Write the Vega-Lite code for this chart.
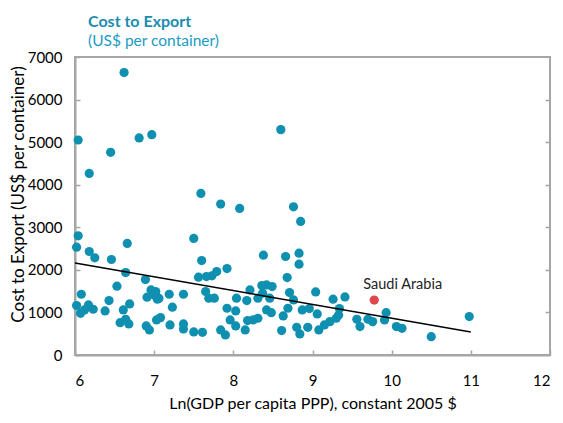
{
  "$schema": "https://vega.github.io/schema/vega-lite/v6.json",
  "width": 475,
  "height": 298,
  "autosize": {"type": "none"},
  "padding": {"left": 75, "top": 57, "right": 13, "bottom": 68},
  "background": "white",
  "config": {
    "font": "Lato",
    "view": {"stroke": "#a6a6a6", "strokeWidth": 2},
    "axis": {"grid": false, "domainColor": "#a6a6a6", "domainWidth": 2, "tickColor": "#a6a6a6", "tickWidth": 1.5, "labelColor": "#000000", "titleColor": "#000000", "labelFont": "Lato", "titleFont": "Lato", "titleFontWeight": "normal"}
  },
  "title": {
    "text": "Cost to Export",
    "subtitle": "(US$ per container)",
    "anchor": "start",
    "frame": "group",
    "dx": 13,
    "offset": 1,
    "font": "Lato",
    "fontSize": 16,
    "fontWeight": "bold",
    "color": "#1a8db0",
    "subtitleFont": "Lato",
    "subtitleFontSize": 15.5,
    "subtitleColor": "#1a9bc4",
    "subtitlePadding": 4
  },
  "datasets": {
    "pts": [
      {"gdp": 6.62, "cost": 6635, "country": "Other"},
      {"gdp": 6.04, "cost": 5050, "country": "Other"},
      {"gdp": 6.18, "cost": 4266, "country": "Other"},
      {"gdp": 6.45, "cost": 4760, "country": "Other"},
      {"gdp": 6.81, "cost": 5098, "country": "Other"},
      {"gdp": 6.97, "cost": 5176, "country": "Other"},
      {"gdp": 7.59, "cost": 3795, "country": "Other"},
      {"gdp": 7.84, "cost": 3545, "country": "Other"},
      {"gdp": 8.08, "cost": 3443, "country": "Other"},
      {"gdp": 8.60, "cost": 5294, "country": "Other"},
      {"gdp": 8.76, "cost": 3482, "country": "Other"},
      {"gdp": 8.85, "cost": 3137, "country": "Other"},
      {"gdp": 6.04, "cost": 2800, "country": "Other"},
      {"gdp": 6.02, "cost": 2533, "country": "Other"},
      {"gdp": 6.18, "cost": 2431, "country": "Other"},
      {"gdp": 6.25, "cost": 2282, "country": "Other"},
      {"gdp": 6.46, "cost": 2243, "country": "Other"},
      {"gdp": 6.66, "cost": 2620, "country": "Other"},
      {"gdp": 6.64, "cost": 1937, "country": "Other"},
      {"gdp": 6.53, "cost": 1616, "country": "Other"},
      {"gdp": 6.08, "cost": 1427, "country": "Other"},
      {"gdp": 6.02, "cost": 1161, "country": "Other"},
      {"gdp": 6.07, "cost": 980, "country": "Other"},
      {"gdp": 6.12, "cost": 1059, "country": "Other"},
      {"gdp": 6.17, "cost": 1176, "country": "Other"},
      {"gdp": 6.23, "cost": 1075, "country": "Other"},
      {"gdp": 6.38, "cost": 1035, "country": "Other"},
      {"gdp": 6.43, "cost": 1278, "country": "Other"},
      {"gdp": 6.61, "cost": 1059, "country": "Other"},
      {"gdp": 6.69, "cost": 1200, "country": "Other"},
      {"gdp": 6.57, "cost": 760, "country": "Other"},
      {"gdp": 6.64, "cost": 840, "country": "Other"},
      {"gdp": 6.68, "cost": 729, "country": "Other"},
      {"gdp": 6.89, "cost": 1772, "country": "Other"},
      {"gdp": 6.96, "cost": 1529, "country": "Other"},
      {"gdp": 7.02, "cost": 1490, "country": "Other"},
      {"gdp": 6.91, "cost": 1357, "country": "Other"},
      {"gdp": 7.04, "cost": 1310, "country": "Other"},
      {"gdp": 6.99, "cost": 1420, "country": "Other"},
      {"gdp": 7.03, "cost": 1370, "country": "Other"},
      {"gdp": 7.06, "cost": 1330, "country": "Other"},
      {"gdp": 7.19, "cost": 1427, "country": "Other"},
      {"gdp": 7.23, "cost": 1122, "country": "Other"},
      {"gdp": 7.37, "cost": 1427, "country": "Other"},
      {"gdp": 7.20, "cost": 706, "country": "Other"},
      {"gdp": 7.37, "cost": 729, "country": "Other"},
      {"gdp": 7.37, "cost": 612, "country": "Other"},
      {"gdp": 7.08, "cost": 878, "country": "Other"},
      {"gdp": 7.03, "cost": 824, "country": "Other"},
      {"gdp": 6.90, "cost": 682, "country": "Other"},
      {"gdp": 6.94, "cost": 588, "country": "Other"},
      {"gdp": 7.50, "cost": 2737, "country": "Other"},
      {"gdp": 7.60, "cost": 2219, "country": "Other"},
      {"gdp": 7.56, "cost": 1828, "country": "Other"},
      {"gdp": 7.66, "cost": 1843, "country": "Other"},
      {"gdp": 7.73, "cost": 1859, "country": "Other"},
      {"gdp": 7.79, "cost": 1960, "country": "Other"},
      {"gdp": 7.92, "cost": 2031, "country": "Other"},
      {"gdp": 7.65, "cost": 1490, "country": "Other"},
      {"gdp": 7.69, "cost": 1334, "country": "Other"},
      {"gdp": 7.76, "cost": 1334, "country": "Other"},
      {"gdp": 7.50, "cost": 541, "country": "Other"},
      {"gdp": 7.61, "cost": 533, "country": "Other"},
      {"gdp": 7.92, "cost": 1098, "country": "Other"},
      {"gdp": 7.96, "cost": 824, "country": "Other"},
      {"gdp": 8.03, "cost": 682, "country": "Other"},
      {"gdp": 7.84, "cost": 588, "country": "Other"},
      {"gdp": 7.90, "cost": 471, "country": "Other"},
      {"gdp": 8.04, "cost": 1334, "country": "Other"},
      {"gdp": 8.38, "cost": 2345, "country": "Other"},
      {"gdp": 8.66, "cost": 2314, "country": "Other"},
      {"gdp": 8.83, "cost": 2392, "country": "Other"},
      {"gdp": 8.83, "cost": 2134, "country": "Other"},
      {"gdp": 8.68, "cost": 1820, "country": "Other"},
      {"gdp": 8.21, "cost": 1529, "country": "Other"},
      {"gdp": 8.36, "cost": 1631, "country": "Other"},
      {"gdp": 8.42, "cost": 1647, "country": "Other"},
      {"gdp": 8.49, "cost": 1608, "country": "Other"},
      {"gdp": 8.37, "cost": 1451, "country": "Other"},
      {"gdp": 8.46, "cost": 1334, "country": "Other"},
      {"gdp": 8.17, "cost": 1278, "country": "Other"},
      {"gdp": 8.31, "cost": 1334, "country": "Other"},
      {"gdp": 8.71, "cost": 1467, "country": "Other"},
      {"gdp": 8.76, "cost": 1294, "country": "Other"},
      {"gdp": 8.03, "cost": 1035, "country": "Other"},
      {"gdp": 8.42, "cost": 1059, "country": "Other"},
      {"gdp": 8.48, "cost": 995, "country": "Other"},
      {"gdp": 8.69, "cost": 1098, "country": "Other"},
      {"gdp": 8.63, "cost": 918, "country": "Other"},
      {"gdp": 8.87, "cost": 1059, "country": "Other"},
      {"gdp": 8.96, "cost": 1090, "country": "Other"},
      {"gdp": 9.04, "cost": 1482, "country": "Other"},
      {"gdp": 9.26, "cost": 1310, "country": "Other"},
      {"gdp": 9.41, "cost": 1365, "country": "Other"},
      {"gdp": 9.34, "cost": 1090, "country": "Other"},
      {"gdp": 9.06, "cost": 965, "country": "Other"},
      {"gdp": 8.18, "cost": 808, "country": "Other"},
      {"gdp": 8.25, "cost": 824, "country": "Other"},
      {"gdp": 8.31, "cost": 863, "country": "Other"},
      {"gdp": 8.15, "cost": 588, "country": "Other"},
      {"gdp": 8.61, "cost": 573, "country": "Other"},
      {"gdp": 8.80, "cost": 651, "country": "Other"},
      {"gdp": 8.84, "cost": 494, "country": "Other"},
      {"gdp": 8.94, "cost": 651, "country": "Other"},
      {"gdp": 9.08, "cost": 588, "country": "Other"},
      {"gdp": 9.15, "cost": 706, "country": "Other"},
      {"gdp": 9.22, "cost": 784, "country": "Other"},
      {"gdp": 9.30, "cost": 863, "country": "Other"},
      {"gdp": 9.33, "cost": 941, "country": "Other"},
      {"gdp": 9.56, "cost": 840, "country": "Other"},
      {"gdp": 9.60, "cost": 667, "country": "Other"},
      {"gdp": 9.70, "cost": 840, "country": "Other"},
      {"gdp": 9.76, "cost": 784, "country": "Other"},
      {"gdp": 9.93, "cost": 995, "country": "Other"},
      {"gdp": 9.91, "cost": 824, "country": "Other"},
      {"gdp": 10.06, "cost": 667, "country": "Other"},
      {"gdp": 10.13, "cost": 628, "country": "Other"},
      {"gdp": 10.50, "cost": 431, "country": "Other"},
      {"gdp": 10.98, "cost": 902, "country": "Other"},
      {"gdp": 9.78, "cost": 1290, "country": "Saudi Arabia"}
    ],
    "trend": [
      {"gdp": 6, "cost": 2160},
      {"gdp": 11, "cost": 540}
    ]
  },
  "layer": [
    {
      "data": {"name": "pts"},
      "mark": {"type": "circle", "size": 85, "opacity": 1},
      "encoding": {
        "x": {"field": "gdp", "type": "quantitative", "scale": {"domain": [6, 12], "nice": false, "zero": false},
          "axis": {"values": [6, 7, 8, 9, 10, 11, 12], "format": "d", "tickSize": -5, "labelPadding": 23, "labelFontSize": 15, "title": "Ln(GDP per capita PPP), constant  2005 $", "titleFontSize": 16, "titleFontWeight": "normal", "titlePadding": 7}},
        "y": {"field": "cost", "type": "quantitative", "scale": {"domain": [0, 7000], "nice": false},
          "axis": {"values": [0, 1000, 2000, 3000, 4000, 5000, 6000, 7000], "format": "d", "tickSize": -5, "labelPadding": 18, "labelFontSize": 15, "title": "Cost to Export (US$ per container)", "titleFontSize": 17, "titleFontWeight": "normal", "titleX": -48, "titleY": 137}},
        "color": {"field": "country", "type": "nominal", "scale": {"domain": ["Other", "Saudi Arabia"], "range": ["#1090b0", "#e0474c"]}, "legend": null}
      }
    },
    {
      "data": {"name": "trend"},
      "mark": {"type": "line", "color": "#000000", "strokeWidth": 1.5},
      "encoding": {
        "x": {"field": "gdp", "type": "quantitative"},
        "y": {"field": "cost", "type": "quantitative",
          "axis": {"orient": "right", "values": [1000, 2000, 3000, 4000, 5000, 6000], "tickSize": -5, "labels": false, "title": null, "domain": false}}
      }
    },
    {
      "data": {"name": "pts"},
      "transform": [{"filter": "datum.country === 'Saudi Arabia'"}],
      "mark": {"type": "text", "align": "left", "baseline": "alphabetic", "dx": -11, "dy": -11, "fontSize": 14.5, "font": "Lato", "color": "#222222"},
      "encoding": {
        "x": {"field": "gdp", "type": "quantitative"},
        "y": {"field": "cost", "type": "quantitative", "axis": null},
        "text": {"field": "country"}
      }
    }
  ],
  "resolve": {"axis": {"y": "independent"}}
}
